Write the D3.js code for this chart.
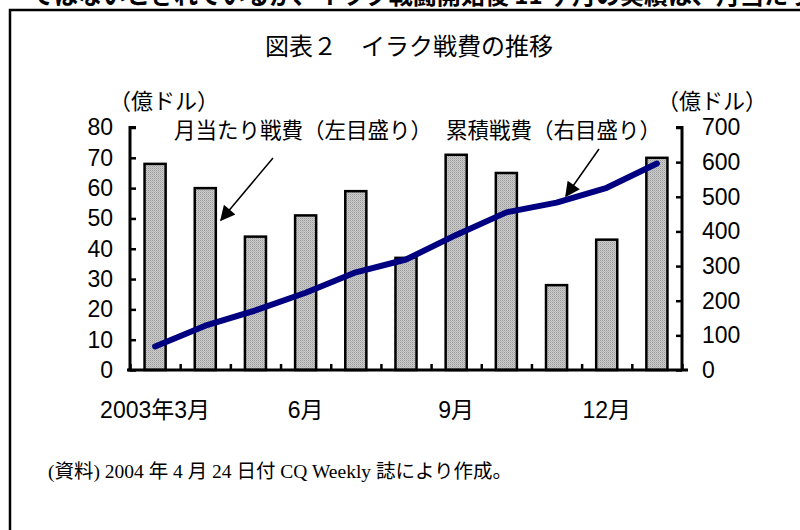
<!DOCTYPE html>
<html>
<head>
<meta charset="utf-8">
<script src="https://cdn.jsdelivr.net/npm/d3@7"></script>
<style>
  body { margin: 0; background: #fff; }
  svg { display: block; }
  text { font-family: "Liberation Sans", "Noto Sans CJK JP", sans-serif; fill: #000; }
</style>
</head>
<body>
<svg id="chart"></svg>
<script>
// 月次データ（2003年3月〜2004年1月）
const months = ["2003-03", "2003-04", "2003-05", "2003-06", "2003-07", "2003-08",
  "2003-09", "2003-10", "2003-11", "2003-12", "2004-01"];
const monthly = [68, 60, 44, 51, 59, 37, 71, 65, 28, 43, 70];        // 億ドル, 左目盛り
const cumulative = [68, 128, 172, 223, 282, 319, 390, 455, 483, 526, 596]; // 億ドル, 右目盛り
const leftTicks = [0, 10, 20, 30, 40, 50, 60, 70, 80];
const rightTicks = [0, 100, 200, 300, 400, 500, 600, 700];
const monthLabels = { "2003-03": "2003年3月", "2003-06": "6月", "2003-09": "9月", "2003-12": "12月" };

const width = 800, height = 530;
const svg = d3.select("#chart").attr("width", width).attr("height", height);

// pattern for the stippled gray bars
const defs = svg.append("defs");
const pat = defs.append("pattern").attr("id", "dots")
  .attr("width", 2).attr("height", 2).attr("patternUnits", "userSpaceOnUse");
pat.append("rect").attr("width", 2).attr("height", 2).attr("fill", "#cccccc");
pat.append("rect").attr("width", 1).attr("height", 1).attr("fill", "#9a9a9a");
pat.append("rect").attr("x", 1).attr("y", 1).attr("width", 1).attr("height", 1).attr("fill", "#b4b4b4");

defs.append("marker").attr("id", "arrow")
  .attr("viewBox", "0 0 10 10").attr("refX", 9).attr("refY", 5)
  .attr("markerWidth", 18).attr("markerHeight", 15).attr("markerUnits", "userSpaceOnUse")
  .attr("orient", "auto")
  .append("path").attr("d", "M0,0 L10,5 L0,10 Z").attr("fill", "#000");

// page text cut off at the top
svg.append("text")
  .attr("x", 30).attr("y", 4)
  .style("font-family", "Noto Sans CJK JP")
  .style("font-size", "24px").style("font-weight", "bold")
  .text("ではないとされているが、イラク戦闘開始後 11 ヶ月の実績は、月当たり");

// frame
svg.append("path")
  .attr("d", "M10,540 V10 H810")
  .attr("fill", "none").attr("stroke", "#000").attr("stroke-width", 2.5);

// title
svg.append("text")
  .attr("x", 409).attr("y", 55).attr("text-anchor", "middle")
  .style("font-family", "Noto Sans CJK JP").style("font-size", "24px")
  .text("図表２　イラク戦費の推移");

const plotL = 130, plotR = 682, plotT = 127.5, plotB = 370;

const x = d3.scaleBand().domain(months).range([plotL, plotR]).paddingInner(0.58).paddingOuter(0.29);
const xb = d3.scaleLinear().domain([0, months.length]).range([plotL, plotR]);
const yL = d3.scaleLinear().domain([0, 80]).range([plotB, plotT]);
const yR = d3.scaleLinear().domain([0, 700]).range([plotB, plotT]);

// bars
svg.append("g").selectAll("rect")
  .data(months)
  .join("rect")
  .attr("x", d => x(d))
  .attr("y", (d, i) => yL(monthly[i]))
  .attr("width", x.bandwidth())
  .attr("height", (d, i) => plotB - yL(monthly[i]))
  .attr("fill", "url(#dots)")
  .attr("stroke", "#000").attr("stroke-width", 2.5);

// axes
const gL = svg.append("g").attr("transform", `translate(${plotL},0)`)
  .call(d3.axisLeft(yL).tickValues(leftTicks).tickSize(-6).tickPadding(17));
const gR = svg.append("g").attr("transform", `translate(${plotR},0)`)
  .call(d3.axisRight(yR).tickValues(rightTicks).tickSize(-6).tickPadding(20));
const gX = svg.append("g").attr("transform", `translate(0,${plotB})`)
  .call(d3.axisBottom(xb).ticks(months.length).tickSize(-6).tickFormat(""));

[gL, gR, gX].forEach(g => {
  g.select(".domain").attr("stroke", "#000").attr("stroke-width", 3);
  g.selectAll(".tick line").attr("stroke", "#000").attr("stroke-width", 2.5);
  g.selectAll(".tick text").style("font-size", "23px").attr("fill", "#000")
    .style("font-family", "Liberation Sans, sans-serif");
});
gL.select(".domain").attr("d", `M6,${plotT}H0V${plotB}H-3`);
gR.select(".domain").attr("d", `M-6,${plotT}H0V${plotB}H6`);
gX.select(".domain").attr("d", `M${plotL - 2},0H${plotR}`);

// x labels
svg.append("g").selectAll("text")
  .data(months.filter(m => monthLabels[m]))
  .join("text")
  .attr("x", d => x(d) + x.bandwidth() / 2)
  .attr("y", 418)
  .attr("text-anchor", "middle")
  .style("font-size", "23px")
  .text(d => monthLabels[d]);

// cumulative line
const line = d3.line()
  .x((d, i) => x(months[i]) + x.bandwidth() / 2)
  .y(d => yR(d));
svg.append("path")
  .datum(cumulative)
  .attr("d", line)
  .attr("fill", "none")
  .attr("stroke", "#000080")
  .attr("stroke-width", 6)
  .attr("stroke-linecap", "round")
  .attr("stroke-linejoin", "round");

// unit labels
svg.append("text").attr("x", 164).attr("y", 109).attr("text-anchor", "middle")
  .style("font-family", "Noto Sans CJK JP").style("font-size", "22px").text("（億ドル）");
svg.append("text").attr("x", 712).attr("y", 109).attr("text-anchor", "middle")
  .style("font-family", "Noto Sans CJK JP").style("font-size", "22px").text("（億ドル）");

// series labels with arrows
svg.append("text").attr("x", 174).attr("y", 138)
  .style("font-size", "21.5px").style("font-family", "Noto Sans CJK JP")
  .text("月当たり戦費（左目盛り）");
svg.append("text").attr("x", 446).attr("y", 138)
  .style("font-size", "21.5px").style("font-family", "Noto Sans CJK JP")
  .text("累積戦費（右目盛り）");

svg.append("line").attr("x1", 273).attr("y1", 158).attr("x2", 221).attr("y2", 220)
  .attr("stroke", "#000").attr("stroke-width", 1.5).attr("marker-end", "url(#arrow)");
svg.append("line").attr("x1", 599).attr("y1", 149).attr("x2", 566).attr("y2", 196)
  .attr("stroke", "#000").attr("stroke-width", 1.5).attr("marker-end", "url(#arrow)");

// source note
svg.append("text").attr("x", 48).attr("y", 478)
  .style("font-family", "Liberation Serif, Noto Sans CJK JP, serif")
  .style("font-size", "19.5px")
  .text("(資料) 2004 年 4 月 24 日付 CQ Weekly 誌により作成。");
</script>
</body>
</html>
